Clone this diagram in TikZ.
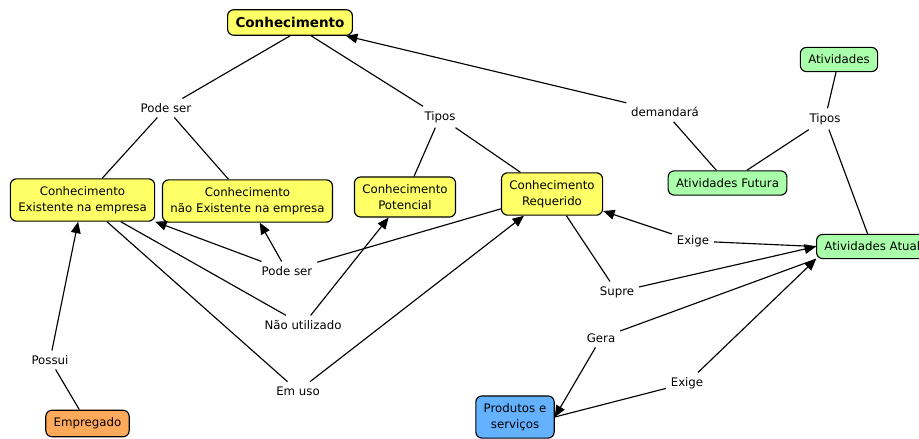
\documentclass[tikz,border=0pt]{standalone}
\usepackage{fontspec}
\setmainfont{DejaVu Sans}
\usetikzlibrary{arrows.meta}
\definecolor{conhfill}{RGB}{255,255,102}
\definecolor{ativfill}{RGB}{170,255,170}
\definecolor{empfill}{RGB}{255,170,90}
\definecolor{prodfill}{RGB}{100,178,255}
\tikzset{
	concept/.style={draw,rounded corners=3.5pt,align=center,inner xsep=4.5pt,inner ysep=4.3pt,font=\fontsize{6.7}{9}\selectfont},
	conh/.style={concept,fill=conhfill},
	ativ/.style={concept,fill=ativfill},
	linkphrase/.style={inner sep=2.5pt,font=\fontsize{6.7}{9}\selectfont},
	directed/.style={arrows={-Triangle[length=6.5pt,width=5.5pt]}}
	}

\begin{document}
\begin{tikzpicture}[x=0.02cm,y=-0.02cm,line width=0.65pt]
		\useasboundingbox (0,0) rectangle (919,439);
		\clip (0,0) rectangle (919,439);
		% conceitos
		\node[conh,font=\bfseries\fontsize{7.7}{9}\selectfont] (conhecimento) at (290,22.5) {Conhecimento};
		\node[conh] (existe) at (82.5,200) {Conhecimento\\Existente na empresa};
		\node[conh] (naoexiste) at (247.5,201) {Conhecimento\\não Existente na empresa};
		\node[conh] (potencial) at (405,197) {Conhecimento\\Potencial};
		\node[conh] (requerido) at (552,194) {Conhecimento\\Requerido};
		\node[ativ] (futura) at (727.5,183) {Atividades Futura};
		\node[ativ] (atividades) at (839,59.5) {Atividades};
		\node[ativ,anchor=west] (atual) at (816,246.5) {Atividades Atual};
		\node[concept,fill=empfill] (empregado) at (87.5,423.5) {Empregado};
		\node[concept,fill=prodfill] (produtos) at (515,417) {Produtos e\\serviços};
		% frases de ligacao
		\node[linkphrase] (podeser) at (166,108) {Pode ser};
		\node[linkphrase] (tipos) at (440,117) {Tipos};
		\node[linkphrase] (demandara) at (665,112) {demandará};
		\node[linkphrase] (tiposativ) at (825,119) {Tipos};
		\node[linkphrase] (podeserb) at (287,271) {Pode ser};
		\node[linkphrase] (naoutil) at (303,325) {Não utilizado};
		\node[linkphrase] (emuso) at (298,391) {Em uso};
		\node[linkphrase] (possui) at (50,360) {Possui};
		\node[linkphrase] (exige) at (693,241) {Exige};
		\node[linkphrase] (supre) at (617,292) {Supre};
		\node[linkphrase] (gera) at (601,338) {Gera};
		\node[linkphrase] (exigeb) at (687,383) {Exige};

		\draw (conhecimento.south) to (podeser);
		\draw (podeser) to (existe);
		\draw (podeser) to (naoexiste);
		\draw (conhecimento) to (tipos);
		\draw (tipos) to (potencial);
		\draw (tipos) to (requerido);
		\draw (futura) to (demandara);
		\draw[directed] (demandara) to (conhecimento);
		\draw (atividades) to (tiposativ);
		\draw (tiposativ) to (futura);
		\draw (tiposativ) to (atual);
		\draw (requerido) to (podeserb);
		\draw[directed] (podeserb) to (existe.south east);
		\draw[directed] (podeserb) to (naoexiste);
		\draw (existe) to (naoutil);
		\draw[directed] (naoutil) to (potencial);
		\draw (existe) to (emuso);
		\draw[directed] (emuso) to (requerido);
		\draw (empregado) to (possui);
		\draw[directed] (possui) to (existe);
		\draw (atual.west) to (exige);
		\draw[directed] (exige) to (requerido);
		\draw (requerido) to (supre);
		\draw[directed] (supre) to (atual.west);
		\draw (atual.south west) to (gera);
		\draw[directed] (gera) to (produtos.east);
		\draw (produtos.east) to (exigeb);
		\draw[directed] (exigeb) to (atual.south west);
	\end{tikzpicture}
\end{document}
